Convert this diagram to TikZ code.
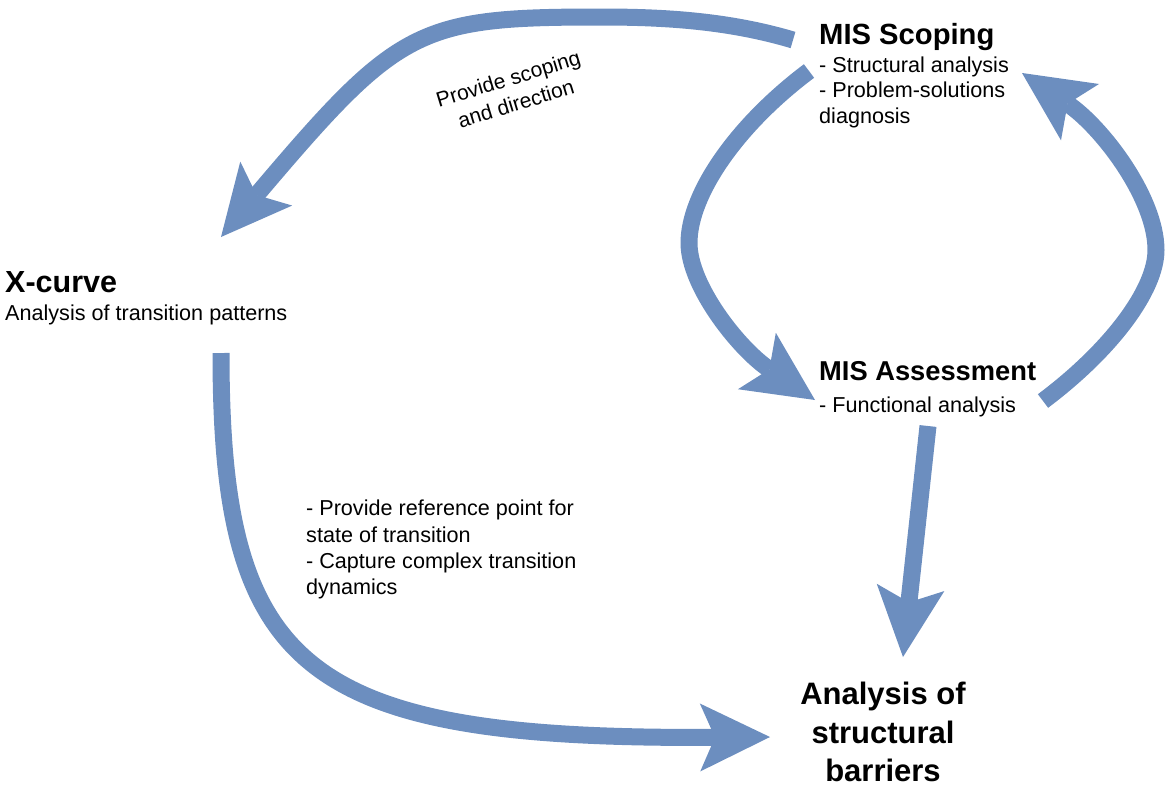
\documentclass[tikz,border=0pt]{standalone}
\usepackage{fontspec}
\setmainfont{Liberation Sans}
\usetikzlibrary{arrows.meta}
\definecolor{arrowblue}{RGB}{108,142,191}
\begin{document}
\begin{tikzpicture}[x=1pt,y=-1pt,
  bigarrow/.style={draw=arrowblue, line width=17pt, -{Stealth[length=70pt,width=68pt,inset=15pt,line width=0pt]}},
  title/.style={inner sep=0pt, font=\fontsize{28}{33}\selectfont\bfseries},
  body/.style={inner sep=0pt, align=left, font=\fontsize{21.6}{25.5}\selectfont},
]
\useasboundingbox (0,0) rectangle (1168,787);

% text nodes
\node[title, anchor=base west, font=\fontsize{29.2}{34}\selectfont\bfseries] (scoping) at (819,44) {MIS Scoping};
\node[body, anchor=north west] (scopingtxt) at (819,56.5) {- Structural analysis\\- Problem-solutions\\diagnosis};
\node[title, anchor=base west, font=\fontsize{27.3}{32}\selectfont\bfseries] (assess) at (819,380) {MIS Assessment};
\node[body, anchor=base west] (assesstxt) at (819,412) {- Functional analysis};
\node[inner sep=0pt, anchor=base west, font=\fontsize{30.5}{36}\selectfont\bfseries] (xcurve) at (5,292) {X-curve};
\node[body, anchor=base west] (xcurvetxt) at (5,320) {Analysis of transition patterns};
\node[body, anchor=north west, font=\fontsize{21.6}{26.2}\selectfont] (xlabel) at (306,500) {- Provide reference point for\\state of transition\\- Capture complex transition\\dynamics};
\node[inner sep=0pt, anchor=north, align=center, font=\fontsize{31}{38.5}\selectfont\bfseries] (barriers) at (883,682) {Analysis of\\structural\\barriers};
\node[inner sep=0pt, align=center, rotate=17, font=\fontsize{21}{26}\selectfont] (scopelabel) at (512,91) {Provide scoping\\and direction};

% connector end points
\coordinate (s1) at (793,40);   \coordinate (t1) at (221,237);
\coordinate (s2) at (809,71);   \coordinate (t2) at (815,400);
\coordinate (s3) at (1043,401); \coordinate (t3) at (1022,73);
\coordinate (s4) at (928,426);  \coordinate (t4) at (903,657);
\coordinate (s5) at (221,353);  \coordinate (t5) at (770,737);

% connectors
\draw[bigarrow] (s1) .. controls (726,20) and (660,17) .. (600,17)
                     .. controls (417,17) and (398,28) .. (t1);
\draw[bigarrow] (s2) .. controls (737,125) and (689,194) .. (689,243)
                     .. controls (689,286) and (739,349) .. (t2);
\draw[bigarrow] (s3) .. controls (1111,350) and (1156,290) .. (1156,250)
                     .. controls (1156,198) and (1102,127) .. (t3);
\draw[bigarrow] (s4) -- (t4);
\draw[bigarrow] (s5) .. controls (221,670) and (303,740) .. (t5);
\end{tikzpicture}
\end{document}
